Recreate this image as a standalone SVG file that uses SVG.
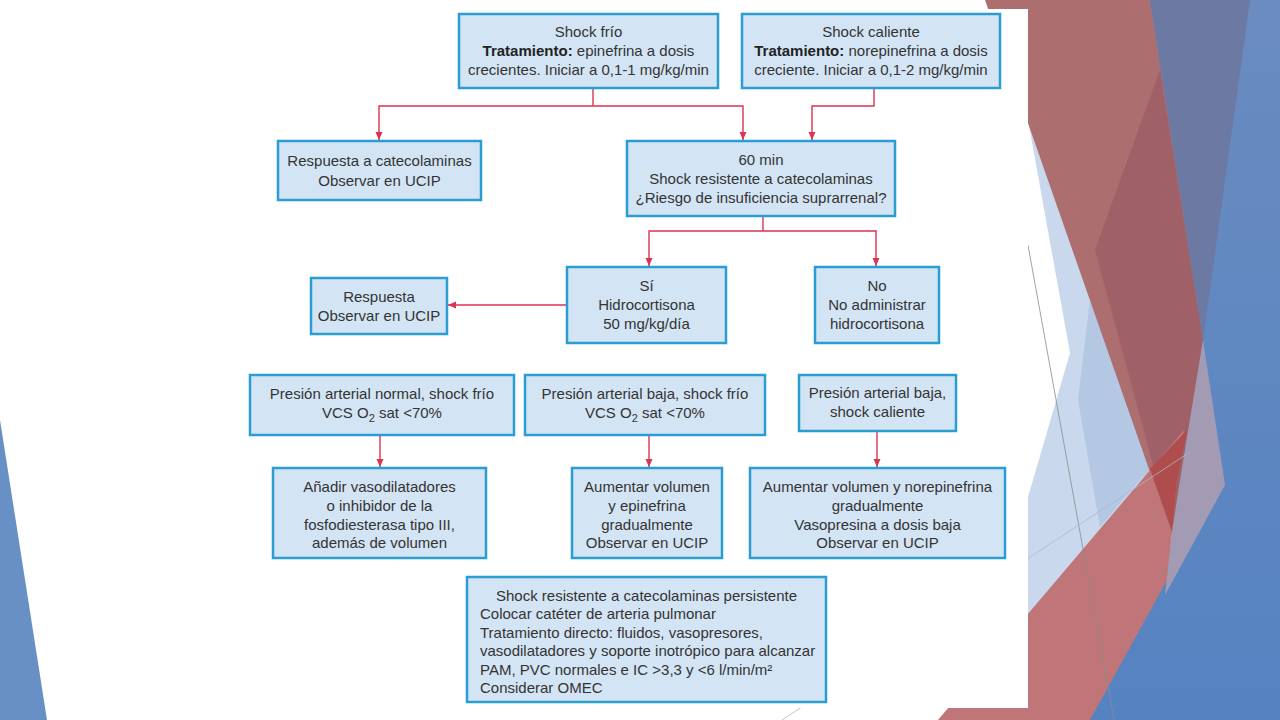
<svg xmlns="http://www.w3.org/2000/svg" width="1280" height="720" viewBox="0 0 1280 720">
<defs>
<style>
.box{fill:#d3e5f5;stroke:#2a9dd3;stroke-width:2.5}
.t{font-family:"Liberation Sans",Arial,Helvetica,sans-serif;font-size:15px;fill:#333333;text-anchor:middle}
.tl{font-family:"Liberation Sans",Arial,Helvetica,sans-serif;font-size:15px;fill:#333333}
.b{font-weight:bold;fill:#222222}
.c{fill:none;stroke:#dc3350;stroke-width:1.4}
.ca{fill:none;stroke:#dc3350;stroke-width:1.4;marker-end:url(#ah)}
</style>
<marker id="ah" viewBox="0 0 8 8" refX="8" refY="4" markerWidth="8" markerHeight="8" markerUnits="userSpaceOnUse" orient="auto">
<path d="M0,0.5 L8,4 L0,7.5 z" fill="#dc3350"/>
</marker>
<linearGradient id="bg" x1="0" y1="0" x2="0" y2="1">
<stop offset="0" stop-color="#6a8cc0"/>
<stop offset="1" stop-color="#5583c1"/>
</linearGradient>
</defs>
<rect width="1280" height="720" fill="#ffffff"/>
<g id="decor">
<polygon points="1100,0 1280,0 1280,720 1050,720" fill="url(#bg)"/>
<polygon points="1028,100 1180,540 1028,640" fill="#c9d8ec"/>
<polygon points="1028,120 1070,353 1028,497" fill="#ffffff"/>
<polygon points="1090,300 1150,470 1140,480 1100,527 1078,400" fill="#b4c8e3"/>
<polygon points="985,0 1150,0 1203,340 1172,535" fill="#ad6e6f"/>
<polygon points="1160,70 1203,340 1172,535 1095,250" fill="#9f6167"/>
<polygon points="938,720 1184,430 1177,480 1172,532 1167,580 1090,720" fill="#c07578"/>
<polygon points="1150,469 1187,430 1177,480 1172,532" fill="#ae4c4e"/>
<polygon points="1203,340 1225,485 1165,595 1172,532 1180,480" fill="#a29bb3"/>
<polygon points="1150,0 1250,0 1203,340" fill="#6b79a3"/>
<line x1="1028" y1="245" x2="1114" y2="720" stroke="#8c8c8c" stroke-width="0.8"/>
<line x1="782" y1="720" x2="1190" y2="452" stroke="#a9b9cc" stroke-width="0.8"/>
<polygon points="0,420 47,720 0,720" fill="#6990c5"/>
<rect x="240" y="9" width="788" height="699" fill="#ffffff"/>
</g>
<g id="connectors">
<polyline class="c" points="593,88 593,106"/>
<polyline class="ca" points="593,106 379,106 379,140"/>
<polyline class="ca" points="593,106 743,106 743,140"/>
<polyline class="ca" points="874,88 874,106 812,106 812,140"/>
<polyline class="c" points="763,216 763,231"/>
<polyline class="ca" points="763,231 649,231 649,266"/>
<polyline class="ca" points="763,231 876,231 876,266"/>
<line class="ca" x1="567" y1="305" x2="448" y2="305"/>
<line class="ca" x1="380" y1="435" x2="380" y2="467"/>
<line class="ca" x1="649" y1="435" x2="649" y2="467"/>
<line class="ca" x1="877" y1="431" x2="877" y2="467"/>
</g>
<g id="shock-frio">
<rect class="box" x="459" y="14" width="259" height="74"/>
<text class="t" x="588.5" y="37">Shock frío</text>
<text class="t" x="588.5" y="56"><tspan class="b">Tratamiento:</tspan> epinefrina a dosis</text>
<text class="t" x="588.5" y="75">crecientes. Iniciar a 0,1-1 mg/kg/min</text>
</g>
<g id="shock-caliente">
<rect class="box" x="742" y="14" width="258" height="74"/>
<text class="t" x="871" y="37">Shock caliente</text>
<text class="t" x="871" y="56"><tspan class="b">Tratamiento:</tspan> norepinefrina a dosis</text>
<text class="t" x="871" y="75">creciente. Iniciar a 0,1-2 mg/kg/min</text>
</g>
<g id="respuesta-catecolaminas">
<rect class="box" x="278" y="141" width="203" height="59"/>
<text class="t" x="379.5" y="166">Respuesta a catecolaminas</text>
<text class="t" x="379.5" y="186">Observar en UCIP</text>
</g>
<g id="sesenta-min">
<rect class="box" x="627" y="141" width="268" height="75"/>
<text class="t" x="761" y="165">60 min</text>
<text class="t" x="761" y="184">Shock resistente a catecolaminas</text>
<text class="t" x="761" y="203">¿Riesgo de insuficiencia suprarrenal?</text>
</g>
<g id="si">
<rect class="box" x="567" y="267" width="159" height="76"/>
<text class="t" x="646.5" y="291">Sí</text>
<text class="t" x="646.5" y="310">Hidrocortisona</text>
<text class="t" x="646.5" y="329">50 mg/kg/día</text>
</g>
<g id="no">
<rect class="box" x="815" y="267" width="124" height="76"/>
<text class="t" x="877" y="291">No</text>
<text class="t" x="877" y="310">No administrar</text>
<text class="t" x="877" y="329">hidrocortisona</text>
</g>
<g id="respuesta">
<rect class="box" x="311" y="278" width="136" height="56"/>
<text class="t" x="379" y="302">Respuesta</text>
<text class="t" x="379" y="321">Observar en UCIP</text>
</g>
<g id="pa-normal-frio">
<rect class="box" x="250" y="375" width="264" height="60"/>
<text class="t" x="382" y="399">Presión arterial normal, shock frío</text>
<text class="t" x="382" y="418">VCS O<tspan font-size="11" dy="4">2</tspan><tspan dy="-4"> sat &lt;70%</tspan></text>
</g>
<g id="pa-baja-frio">
<rect class="box" x="525" y="375" width="240" height="60"/>
<text class="t" x="645" y="399">Presión arterial baja, shock frío</text>
<text class="t" x="645" y="418">VCS O<tspan font-size="11" dy="4">2</tspan><tspan dy="-4"> sat &lt;70%</tspan></text>
</g>
<g id="pa-baja-caliente">
<rect class="box" x="799" y="375" width="157" height="56"/>
<text class="t" x="877.5" y="398">Presión arterial baja,</text>
<text class="t" x="877.5" y="417">shock caliente</text>
</g>
<g id="vasodilatadores">
<rect class="box" x="273" y="468" width="213" height="90"/>
<text class="t" x="379.5" y="492">Añadir vasodilatadores</text>
<text class="t" x="379.5" y="511">o inhibidor de la</text>
<text class="t" x="379.5" y="530">fosfodiesterasa tipo III,</text>
<text class="t" x="379.5" y="548">además de volumen</text>
</g>
<g id="volumen-epinefrina">
<rect class="box" x="572" y="468" width="150" height="90"/>
<text class="t" x="647" y="492">Aumentar volumen</text>
<text class="t" x="647" y="511">y epinefrina</text>
<text class="t" x="647" y="530">gradualmente</text>
<text class="t" x="647" y="548">Observar en UCIP</text>
</g>
<g id="volumen-norepinefrina">
<rect class="box" x="750" y="468" width="255" height="90"/>
<text class="t" x="877.5" y="492">Aumentar volumen y norepinefrina</text>
<text class="t" x="877.5" y="511">gradualmente</text>
<text class="t" x="877.5" y="530">Vasopresina a dosis baja</text>
<text class="t" x="877.5" y="548">Observar en UCIP</text>
</g>
<g id="shock-persistente">
<rect class="box" x="467" y="577" width="359" height="125"/>
<text class="t" x="646.5" y="601">Shock resistente a catecolaminas persistente</text>
<text class="tl" x="480" y="619">Colocar catéter de arteria pulmonar</text>
<text class="tl" x="480" y="638">Tratamiento directo: fluidos, vasopresores,</text>
<text class="tl" x="480" y="656">vasodilatadores y soporte inotrópico para alcanzar</text>
<text class="tl" x="480" y="675">PAM, PVC normales e IC &gt;3,3 y &lt;6 l/min/m²</text>
<text class="tl" x="480" y="693">Considerar OMEC</text>
</g>
</svg>
